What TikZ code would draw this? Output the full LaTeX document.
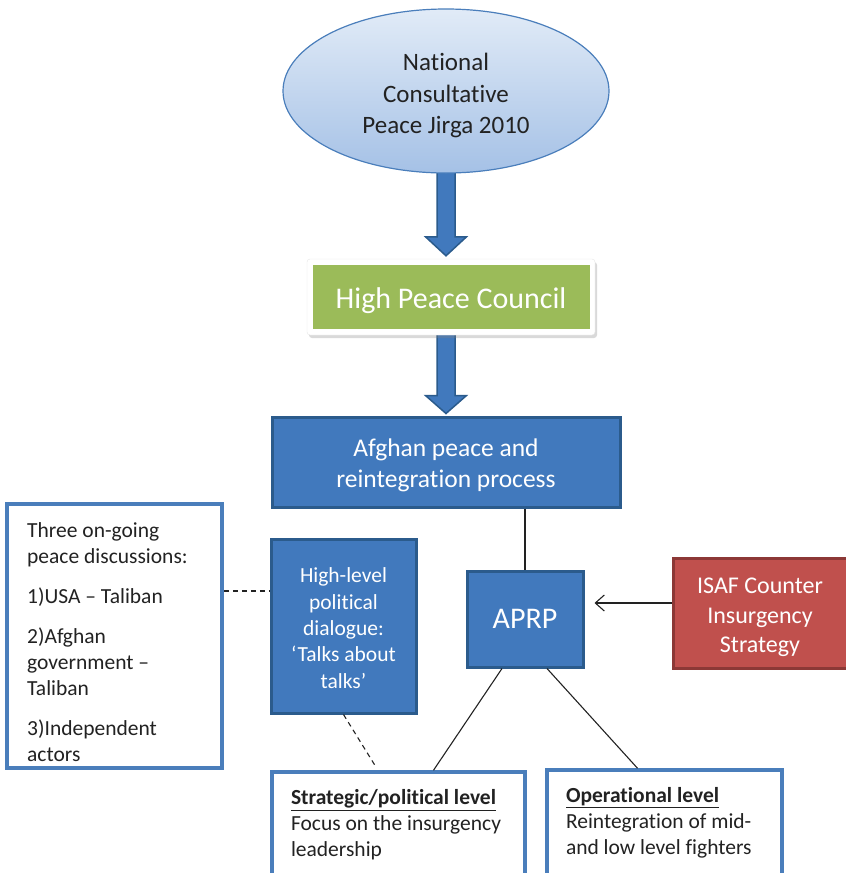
\documentclass[tikz,border=0pt]{standalone}
\usepackage{fontspec}
\setmainfont{Carlito}[Ligatures=NoCommon]
\usetikzlibrary{shapes.geometric,arrows.meta,calc,shadows}
\definecolor{bfill}{HTML}{4179BD}
\definecolor{bdraw}{HTML}{2B5B8C}
\definecolor{lblue}{HTML}{4A7EBB}
\definecolor{gfill}{HTML}{9BBB59}
\definecolor{rfill}{HTML}{C0504D}
\definecolor{rdraw}{HTML}{8C3836}
\definecolor{txt}{HTML}{222222}
\definecolor{elltop}{HTML}{E1EBF7}
\definecolor{ellbot}{HTML}{A5C1E6}
\newcommand{\htfix}[1]{\rule{0pt}{#1}}
\pgfdeclarelayer{bg}
\pgfsetlayers{bg,main}
\begin{document}
\begin{tikzpicture}[x=1pt,y=-1pt,
  bluebox/.style={draw=bdraw,fill=bfill,line width=3pt,text=white,align=center,inner sep=0pt},
  outbox/.style={draw=lblue,fill=white,line width=3.5pt,text=txt,align=flush left,inner ysep=0pt,inner xsep=19pt},
  barrow/.style={draw=bdraw,fill=bfill,line width=1.5pt,line join=miter},
  conn/.style={draw=txt,line width=1.1pt},
  dashline/.style={draw=txt,line width=1.1pt,dash pattern=on 5pt off 4pt}
]
\useasboundingbox (0,0) rectangle (846,873);

\node[ellipse, draw=lblue, line width=1.2pt, top color=elltop, bottom color=ellbot,
      minimum width=326pt, minimum height=164pt, inner sep=0pt, align=center, text=txt,
      font=\fontsize{25}{31.5}\selectfont] (jirga) at (446,91) {\htfix{27pt}National\\Consultative\\Peace Jirga 2010};

\node[draw=black!10, fill=white, rounded corners=3pt,
      drop shadow={opacity=0.3,shadow xshift=2pt,shadow yshift=-3pt},
      minimum width=288pt, minimum height=76pt] (hpcout) at (451,297) {};
\node[fill=gfill, minimum width=277pt, minimum height=64pt, text=white, inner sep=0pt,
      font=\fontsize{30}{36}\selectfont] (hpc) at (hpcout.center) {\htfix{28.5pt}High Peace Council};

\node[bluebox, minimum width=348pt, minimum height=90pt,
      font=\fontsize{25.5}{31}\selectfont] (apr) at (446,462) {\htfix{25pt}Afghan peace and\\reintegration process};

\node[bluebox, minimum width=116pt, minimum height=96pt,
      font=\fontsize{30}{36}\selectfont] (aprp) at (525,619) {APRP};

\node[draw=rdraw, fill=rfill, line width=3pt, text=white, align=center, inner sep=0pt,
      minimum width=174pt, minimum height=110pt,
      font=\fontsize{24}{29.5}\selectfont] (isaf) at (760,613) {\htfix{25pt}ISAF Counter\\Insurgency\\Strategy};

\node[bluebox, minimum width=145pt, minimum height=174pt,
      font=\fontsize{21.5}{26.3}\selectfont] (hl) at (343.5,626) {\htfix{19pt}High-level\\political\\dialogue:\\‘Talks about\\talks’};

\node[draw=lblue, fill=white, line width=3.5pt, minimum width=215pt, minimum height=264pt] (disc) at (114.5,636) {};
\node[anchor=north west, inner sep=0pt, align=left, text=txt,
      font=\fontsize{21.5}{26}\selectfont] (disctext) at (27,522)
  {Three on-going\\peace discussions:\\[14pt]1)USA – Taliban\\[14pt]2)Afghan\\government –\\Taliban\\[14pt]3)Independent\\actors};

\node[outbox, text width=215pt, minimum height=106pt,
      font=\fontsize{21.5}{26}\selectfont] (strat) at (398.5,825)
  {\underline{\textbf{Strategic/political level}}\\Focus on the insurgency\\leadership};

\node[outbox, text width=197pt, minimum height=106pt,
      font=\fontsize{21.5}{26}\selectfont] (op) at (664.5,823)
  {\underline{\textbf{Operational level}}\\Reintegration of mid-\\and low level fighters};

\begin{pgfonlayer}{bg}
\coordinate (t1) at (hpcout.north -| jirga.south);
\draw[barrow] ($(jirga.south)+(-9,-8)$) -- ($(t1)+(-9,-22)$) -- ($(t1)+(-20.5,-22)$) -- ($(t1)+(0,-3)$)
   -- ($(t1)+(20.5,-22)$) -- ($(t1)+(9,-22)$) -- ($(jirga.south)+(9,-8)$) -- cycle;
\coordinate (s2) at (hpcout.south -| apr.north);
\draw[barrow] ($(s2)+(-9,-4)$) -- ($(apr.north)+(-9,-20)$) -- ($(apr.north)+(-20.5,-20)$) -- ($(apr.north)+(0,-2)$)
   -- ($(apr.north)+(20.5,-20)$) -- ($(apr.north)+(9,-20)$) -- ($(s2)+(9,-4)$) -- cycle;
\end{pgfonlayer}

\draw[conn] (apr.south -| aprp.north) -- (aprp.north);
\draw[conn, -{Straight Barb[length=9pt,width=16pt,line width=1.1pt]}] ($(isaf.west)+(0,-10)$) -- ($(aprp.east)+(10,-16)$);
\draw[conn] ($(aprp.south)+(-23,0)$) -- ($(strat.north)+(35,0)$);
\draw[conn] ($(aprp.south)+(22,0)$) -- ($(op.north)+(-27,0)$);
\coordinate (dl) at ($(hl.west)+(0,-35)$);
\draw[dashline] (dl -| disc.east) -- (dl);
\draw[dashline] (hl.south) -- ($(strat.north)+(-23,-4)$);
\end{tikzpicture}
\end{document}
